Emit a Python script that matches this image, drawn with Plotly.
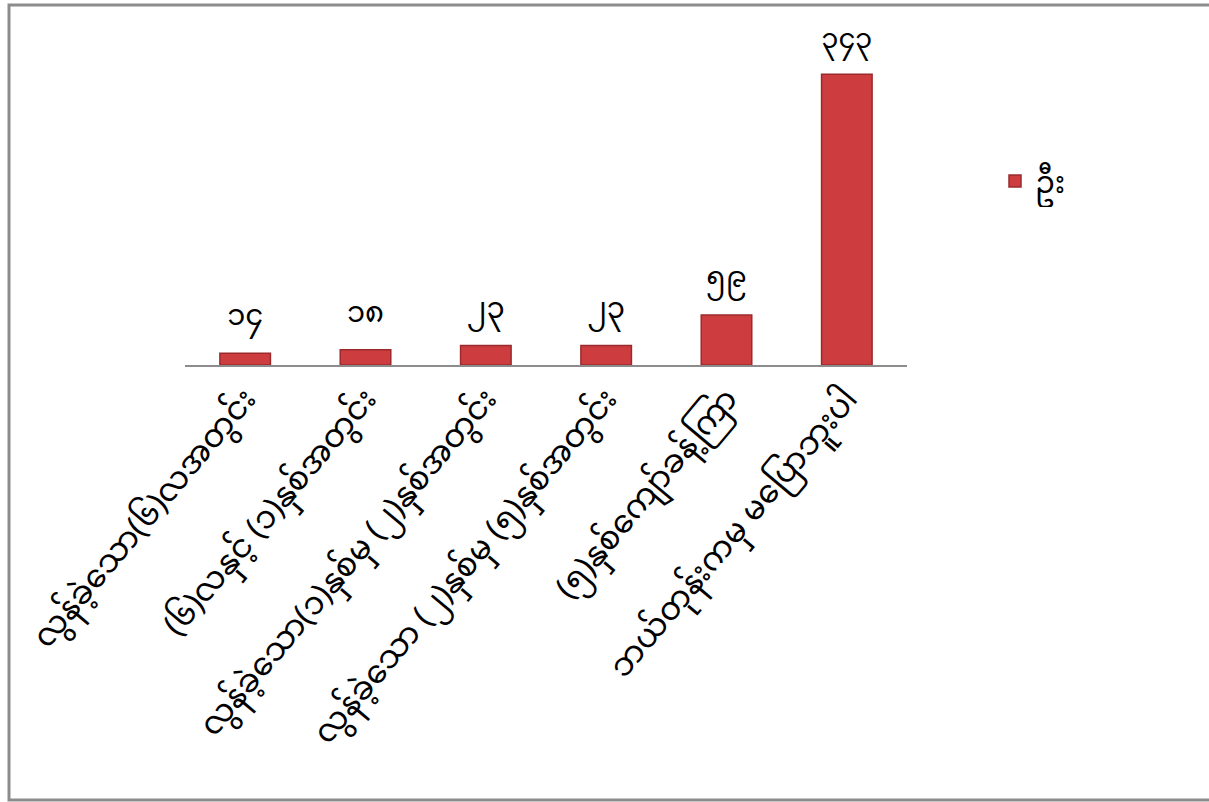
import plotly.graph_objects as go

categories = [
    "လွန်ခဲ့သော(၆)လအတွင်း",
    "(၆)လနှင့် (၁)နှစ်အတွင်း",
    "လွန်ခဲ့သော(၁)နှစ်မှ (၂)နှစ်အတွင်း",
    "လွန်ခဲ့သော (၂)နှစ်မှ (၅)နှစ်အတွင်း",
    "(၅)နှစ်ကျော်ခန့်ကြာ",
    "ဘယ်တုန်းကမှ မပြောဘူးပါ",
]
values = [14, 18, 23, 23, 59, 343]
value_labels = ["၁၄", "၁၈", "၂၃", "၂၃", "၅၉", "၃၄၃"]
series_name = "ဦး"

font_family = "Noto Sans Myanmar, Padauk, Myanmar Text, Noto Sans, DejaVu Sans, sans-serif"

fig = go.Figure()
fig.add_trace(go.Bar(
    x=categories,
    y=values,
    name=series_name,
    text=value_labels,
    textposition="outside",
    cliponaxis=False,
    textfont=dict(size=29, color="#000000", family=font_family),
    marker=dict(color="#CD3D40", line=dict(color="#9B2A2D", width=1.5)),
    showlegend=True,
))

L, R, T, B = 185, 907, 43, 365
W, H = 1209, 802
def px(x):
    return (x - L) / (R - L)
def py(y):
    return (B - y) / (B - T)

fig.add_shape(type="rect", xref="paper", yref="paper",
              x0=px(9), x1=px(1216), y0=py(5), y1=py(800),
              line=dict(color="#8C8C8C", width=3), fillcolor="rgba(0,0,0,0)", layer="below")

fig.update_layout(
    width=W, height=H,
    margin=dict(l=L, r=W - R, t=T, b=H - B),
    paper_bgcolor="white", plot_bgcolor="white",
    bargap=0.58,
    font=dict(family=font_family, size=22, color="#000000"),
    xaxis=dict(
        tickangle=-50,
        automargin=False,
        showline=True, linecolor="#8C8C8C", linewidth=2,
        ticks="", showgrid=False, zeroline=False,
        tickfont=dict(size=32, color="#000000", family=font_family),
    ),
    yaxis=dict(
        range=[0, 380], visible=False, showgrid=False, zeroline=False,
        automargin=False,
    ),
    legend=dict(
        x=px(995), y=py(155), xanchor="left", yanchor="top",
        font=dict(size=30, family=font_family, color="#000000"),
        bgcolor="rgba(0,0,0,0)",
    ),
)

fig.write_html("out.html")
